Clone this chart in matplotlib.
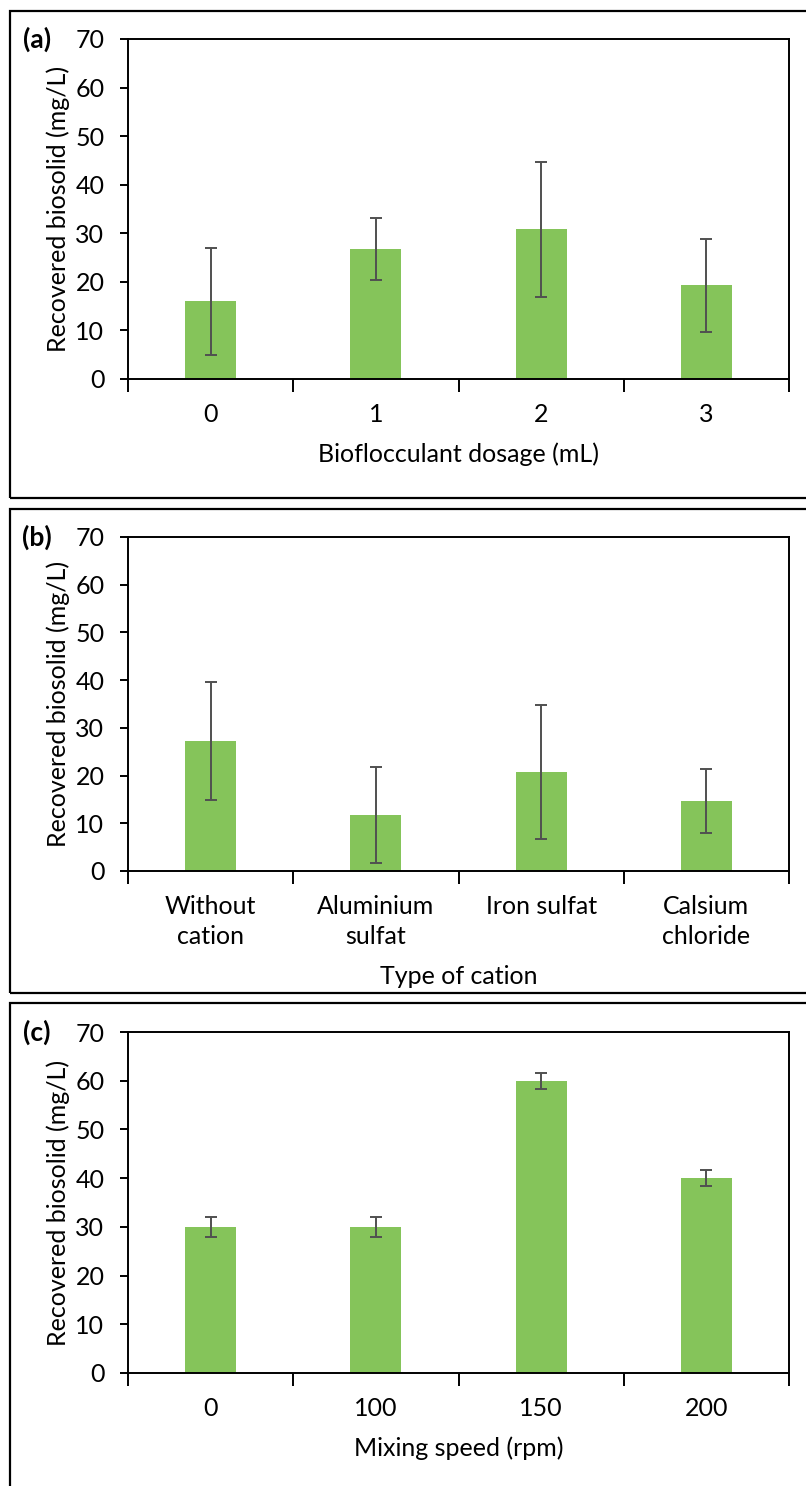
import matplotlib.pyplot as plt
from matplotlib.patches import Rectangle

plt.rcParams['font.family'] = ['Lato', 'DejaVu Sans']

# panel (a)
dosage = ['0', '1', '2', '3']
dosage_val = [16.0, 26.8, 30.8, 19.3]
dosage_err = [11.0, 6.4, 13.9, 9.6]

# panel (b)
cation = ['Without\ncation', 'Aluminium\nsulfat', 'Iron sulfat', 'Calsium\nchloride']
cation_val = [27.3, 11.7, 20.7, 14.6]
cation_err = [12.4, 10.0, 14.0, 6.7]

# panel (c)
speed = ['0', '100', '150', '200']
speed_val = [30.0, 30.0, 60.0, 40.0]
speed_err = [2.0, 2.0, 1.6, 1.6]

panels = [
    ('(a)', dosage, dosage_val, dosage_err, 'Bioflocculant dosage (mL)'),
    ('(b)', cation, cation_val, cation_err, 'Type of cation'),
    ('(c)', speed, speed_val, speed_err, 'Mixing speed (rpm)'),
]

W, H = 806, 1486
fs = 18
fig = plt.figure(figsize=(W / 100, H / 100), dpi=100)

# axes boxes in pixel coords: (top, bottom)
ax_rows = [(39, 379), (537, 871), (1032, 1373)]
# outer frames: (top, bottom)
frames = [(11, 498), (509, 993), (1003, 1495)]

for (lab, cats, vals, errs, xl), (top, bot), (ft, fb) in zip(panels, ax_rows, frames):
    fig.add_artist(Rectangle((10 / W, 1 - fb / H), (W + 10) / W, (fb - ft) / H,
                             transform=fig.transFigure, fill=False,
                             edgecolor='black', linewidth=1.6, clip_on=False))
    ax = fig.add_axes([128 / W, 1 - bot / H, (789 - 128) / W, (bot - top) / H])
    x = list(range(len(cats)))
    ax.bar(x, vals, width=0.31, color='#85c45a', zorder=2)
    ax.errorbar(x, vals, yerr=errs, fmt='none', ecolor='#505050',
                elinewidth=1.4, capsize=4, capthick=1.4, zorder=3)
    ax.set_xlim(-0.5, len(cats) - 0.5)
    ax.set_ylim(0, 70)
    ax.set_yticks(range(0, 71, 10))
    ax.set_xticks(x)
    ax.set_xticklabels(cats, fontsize=fs, linespacing=1.4)
    ax.tick_params(axis='x', length=0, pad=17)
    ax.set_xticks([i - 0.5 for i in range(len(cats) + 1)], minor=True)
    ax.tick_params(axis='x', which='minor', length=9, width=1.4, direction='out')
    ax.tick_params(axis='y', labelsize=fs, length=6, width=1.4, direction='out', pad=11)
    for s in ax.spines.values():
        s.set_linewidth(1.4)
    ax.set_ylabel('Recovered biosolid (mg/L)', fontsize=fs, labelpad=4)
    ax.set_xlabel(xl, fontsize=fs, labelpad=12)
    fig.text(37 / W, 1 - top / H, lab, fontsize=19, fontweight='bold',
             ha='center', va='center')

fig.savefig('out.png', dpi=100)
